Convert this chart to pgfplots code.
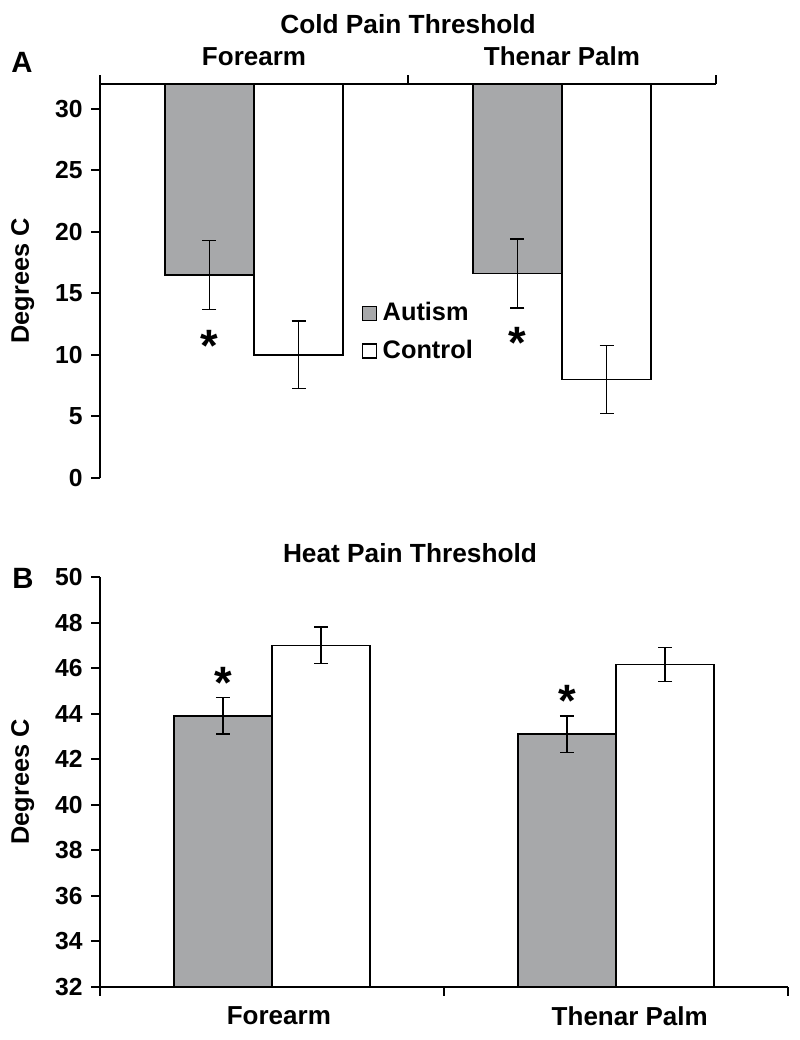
\documentclass[border=0pt]{standalone}
\usepackage{fontspec}
\setmainfont{Liberation Sans}
\usepackage{pgfplots}
\pgfplotsset{compat=1.18}
\definecolor{autgray}{RGB}{167,168,170}
\newcommand{\fs}[1]{\fontsize{#1}{#1}\selectfont\bfseries}

\pgfplotsset{
  panel/.style={
    scale only axis,
    xmin=-0.5, xmax=1.5,
    axis line style={line width=1.5pt},
    tick style={line width=1.5pt, black},
    major tick length=6.5pt,
    tick align=outside,
    xtick={-0.5,0.5,1.5},
    xticklabels={},
    extra x tick labels={Forearm,Thenar Palm},
    extra x tick style={major tick length=0pt},
    /pgf/number format/assume math mode=true,
    tick label style={font=\fs{18.5}},
    x tick label style={font=\fs{19.5}},
    y tick label style={xshift=-3pt},
    ylabel={Degrees C},
    every axis y label/.style={at={([xshift=-58pt]rel axis cs:0,0.5)},
      rotate=90, anchor=center, font=\fs{19}},
    legend image code/.code={\draw[##1] (0pt,-6pt) rectangle (10.5pt,4.5pt);},
  },
  ebars/.style={forget plot, draw=none, mark=none,
    error bars/.cd, y dir=both, y explicit,
    error bar style={draw=black, line width=1pt},
    error mark options={rotate=90, draw=black, line width=1pt, mark size=5.25pt}},
}

\begin{document}
\begin{tikzpicture}
% ---- A: cold pain threshold (bars hang from 32 C)
\begin{axis}[panel, name=top,
  at={(0,381.75pt)}, anchor=south west,
  width=462pt, height=295.5pt,
  ymin=0, ymax=32, ytick={0,5,...,30},
  extra x ticks={0,1},
  axis x line*=top, axis y line*=left,
  x tick label style={yshift=10.5pt},
  legend style={at={(axis cs:0.35,14.4)}, anchor=north west,
    draw=none, fill=none, inner sep=0pt, font=\fs{19},
    row sep=11pt, column sep=3pt,
    nodes={inner sep=1pt}},
  legend cell align=left,
]
\addplot[fill=autgray, draw=black, line width=1pt]
  coordinates {(-0.289,32) (-0.289,16.5) (0,16.5) (0,32)} -- cycle;
\addlegendentry{Autism}
\addplot[fill=white, draw=black, line width=1pt]
  coordinates {(0,32) (0,10.0) (0.289,10.0) (0.289,32)} -- cycle;
\addlegendentry{Control}
\addplot[forget plot, fill=autgray, draw=black, line width=1pt]
  coordinates {(0.711,32) (0.711,16.6) (1,16.6) (1,32)} -- cycle;
\addplot[forget plot, fill=white, draw=black, line width=1pt]
  coordinates {(1,32) (1,8.0) (1.289,8.0) (1.289,32)} -- cycle;
% error bars
\addplot[ebars]
  coordinates {
    (-0.1445,16.5) +- (0,2.8)
    (0.1445,10.0) +- (0,2.75)
    (0.8555,16.6) +- (0,2.8)
    (1.1445,8.0) +- (0,2.75)
  };
\node[font=\fontsize{34}{34}\selectfont\bfseries, anchor=north, inner sep=0pt]
  at (axis cs:-0.1445,12.0) {*};
\node[font=\fontsize{34}{34}\selectfont\bfseries, anchor=north, inner sep=0pt]
  at (axis cs:0.8555,12.3) {*};
\end{axis}

% ---- B: heat pain threshold
\begin{axis}[panel, name=bottom,
  at={(0,0)}, anchor=south west,
  width=516pt, height=307.5pt,
  ymin=32, ymax=50, ytick={32,34,...,50},
  extra x ticks={0.02,1.04},
  axis x line*=bottom, axis y line*=left,
  x tick label style={yshift=-11pt},
]
\addplot[ybar, bar width=0.285, bar shift=-0.1425,
  fill=autgray, draw=black, line width=1pt]
  coordinates {(0,43.9) (1,43.1)};
\addplot[ybar, bar width=0.285, bar shift=0.1425,
  fill=white, draw=black, line width=1pt]
  coordinates {(0,47.0) (1,46.15)};
% error bars
\addplot[ebars]
  coordinates {
    (-0.1425,43.9) +- (0,0.8)
    (0.1425,47.0) +- (0,0.8)
    (0.8575,43.1) +- (0,0.8)
    (1.1425,46.15) +- (0,0.75)
  };
\node[font=\fontsize{34}{34}\selectfont\bfseries, anchor=north, inner sep=0pt]
  at (axis cs:-0.1425,46.05) {*};
\node[font=\fontsize{34}{34}\selectfont\bfseries, anchor=north, inner sep=0pt]
  at (axis cs:0.8575,45.26) {*};
\end{axis}

\node[font=\fs{19.7}] at ([yshift=45pt]top.north) {Cold Pain Threshold};
\node[font=\fs{19.7}] at ([xshift=-25.5pt, yshift=18pt]bottom.north) {Heat Pain Threshold};
\node[font=\fs{22}] at ([xshift=-58.5pt, yshift=16.5pt]top.north west) {A};
\node[font=\fs{22}] at ([xshift=-57.75pt, yshift=-0.75pt]bottom.north west) {B};

\pgfresetboundingbox
\useasboundingbox (-75pt,-39.75pt) rectangle (525pt,740.25pt);
\end{tikzpicture}
\end{document}
